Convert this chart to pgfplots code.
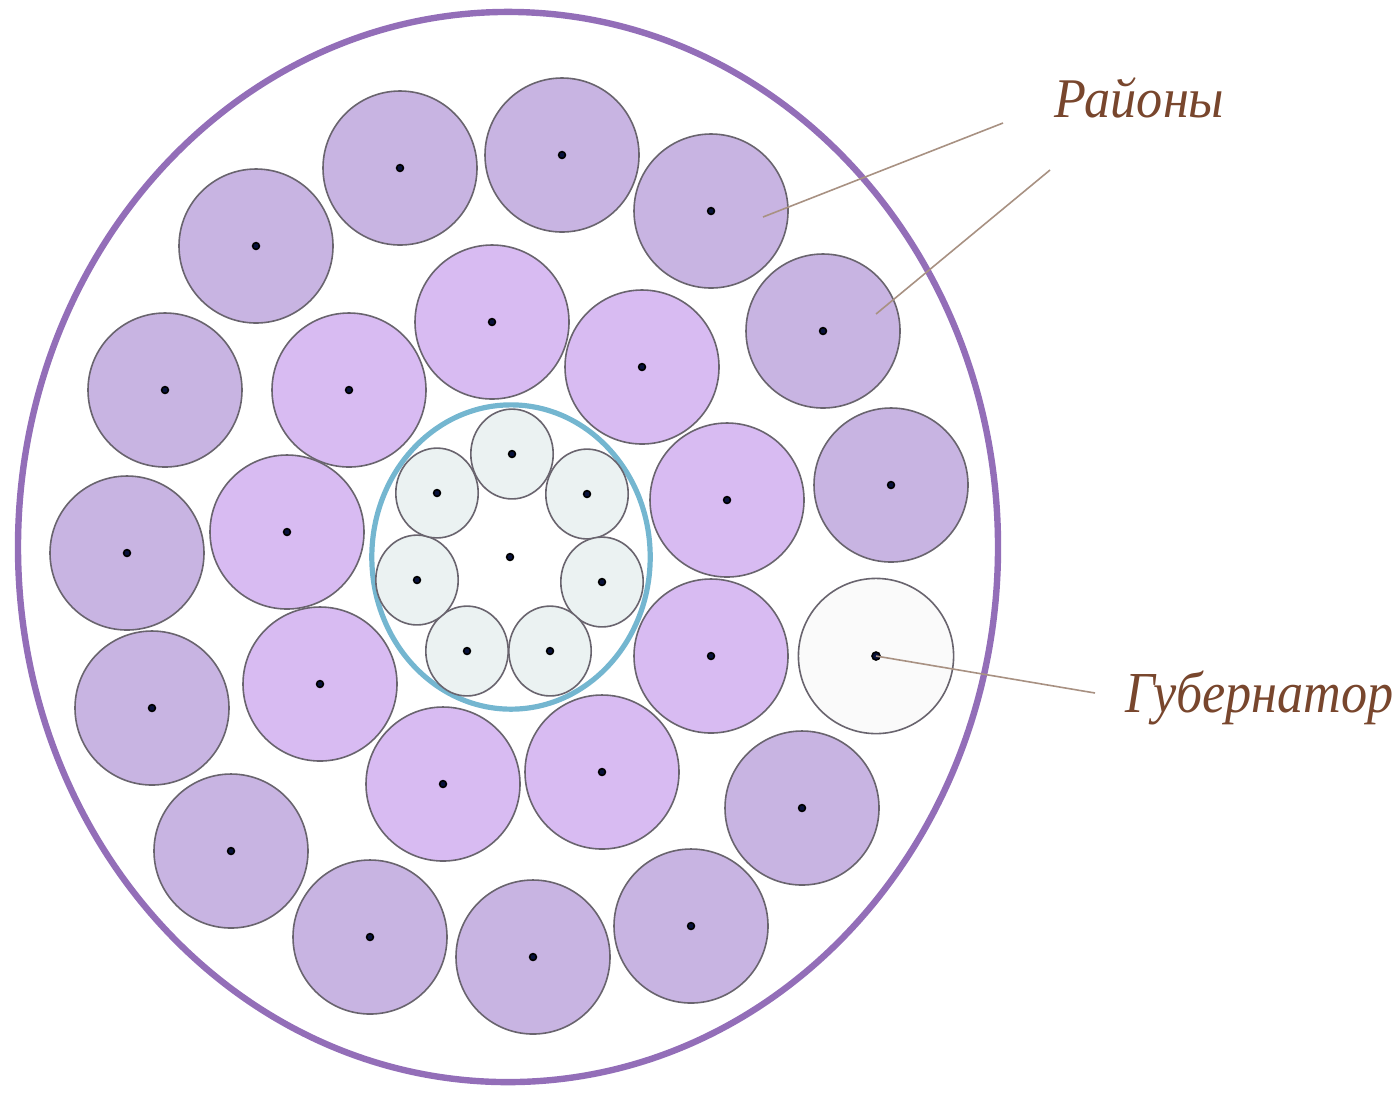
\documentclass[border=0pt]{standalone}
\usepackage{pgfplots}
\pgfplotsset{compat=1.18}
\usepackage{fontspec}
\setmainfont{Liberation Serif}
\definecolor{darkfill}{RGB}{200,180,226}
\definecolor{lightfill}{RGB}{216,187,242}
\definecolor{smallfill}{RGB}{235,242,242}
\definecolor{govfill}{RGB}{250,250,250}
\definecolor{edge}{RGB}{105,100,110}
\definecolor{dotc}{RGB}{8,18,60}
\definecolor{ringpurple}{RGB}{147,110,184}
\definecolor{ringblue}{RGB}{116,182,208}
\definecolor{leader}{RGB}{168,145,130}
\definecolor{labelc}{RGB}{120,70,45}
\begin{document}
\begin{tikzpicture}
\begin{axis}[
  width=349.5pt, height=273.5pt, scale only axis,
  xmin=0, xmax=1398, ymin=0, ymax=1094, y dir=reverse,
  hide axis, clip=false, clip mode=individual]
\coordinate (bbll) at (axis cs:0,1094);
\coordinate (bbur) at (axis cs:1398,0);
% outer boundary
\addplot[only marks, mark=o, mark size=122.5pt,
  mark options={yscale=1.092, draw=ringpurple, line width=1.6pt}]
  coordinates {(508,547)};
% outer ring of districts
\addplot[only marks, mark=*, mark size=19.25pt,
  mark options={fill=darkfill, draw=edge, line width=0.4pt}]
  coordinates {(400,168) (562,155) (711,211) (823,331) (891,485) (802,808)
   (691,926) (533,957) (370,937) (231,851) (152,708) (127,553) (165,390) (256,246)};
% governor
\addplot[only marks, mark=*, mark size=19.4pt,
  mark options={fill=govfill, draw=edge, line width=0.4pt}]
  coordinates {(876,656)};
% inner ring of districts
\addplot[only marks, mark=*, mark size=19.25pt,
  mark options={fill=lightfill, draw=edge, line width=0.4pt}]
  coordinates {(492,322) (642,367) (727,500) (711,656) (602,772) (443,784)
   (320,684) (287,532) (349,390)};
% centre ring
\addplot[only marks, mark=o, mark size=34.8pt,
  mark options={yscale=1.093, draw=ringblue, line width=1.3pt}]
  coordinates {(511,557)};
\addplot[only marks, mark=*, mark size=10.3pt,
  mark options={yscale=1.09, fill=smallfill, draw=edge, line width=0.4pt}]
  coordinates {(512,454) (587,494) (602,582) (550,651) (467,651) (417,580) (437,493)};
% centre dots
\addplot[only marks, mark=*, mark size=0.85pt,
  mark options={fill=dotc, draw=none}]
  coordinates {(400,168) (562,155) (711,211) (823,331) (891,485) (802,808)
   (691,926) (533,957) (370,937) (231,851) (152,708) (127,553) (165,390) (256,246)
   (492,322) (642,367) (727,500) (711,656) (602,772) (443,784)
   (320,684) (287,532) (349,390)
   (512,454) (587,494) (602,582) (550,651) (467,651) (417,580) (437,493) (510,557)};
\addplot[only marks, mark=*, mark size=1pt,
  mark options={fill=dotc, draw=none}]
  coordinates {(876,656)};
% leader lines
\addplot[leader, line width=0.4pt] coordinates {(1003,123) (763,217)};
\addplot[leader, line width=0.4pt] coordinates {(1050,170) (876,314)};
\addplot[leader, line width=0.4pt] coordinates {(1095,693) (876,656)};
\node[anchor=base west, inner sep=0pt, text=labelc, xscale=0.933,
  font=\fontsize{14}{16}\selectfont\itshape]
  at (axis cs:1054,117) {Районы};
\node[anchor=base west, inner sep=0pt, text=labelc, xscale=0.9,
  font=\fontsize{14.5}{17}\selectfont\itshape]
  at (axis cs:1125,712) {Губернатор};
\end{axis}
\pgfresetboundingbox
\path (bbll) rectangle (bbur);
\end{tikzpicture}
\end{document}
